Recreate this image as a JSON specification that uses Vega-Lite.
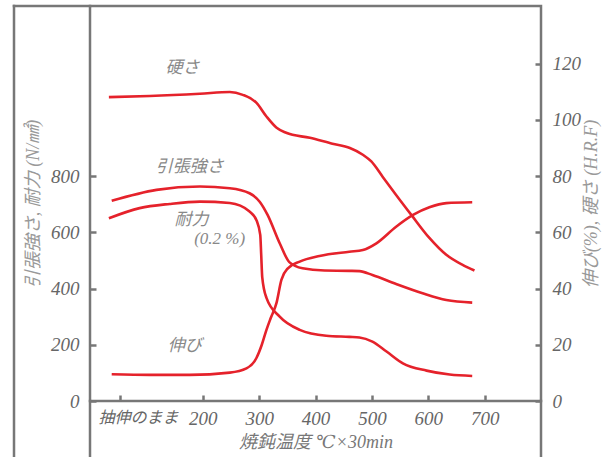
{
  "$schema": "https://vega.github.io/schema/vega-lite/v6.json",
  "width": 451,
  "height": 395,
  "autosize": "none",
  "padding": {"left": 90, "top": 6, "right": 67, "bottom": 56},
  "background": "white",
  "config": {"view": {"stroke": "#777", "strokeWidth": 2.5}},
  "datasets": {
    "left": [
      {"series": "引張強さ", "temp": 38.5, "value": 712},
      {"series": "引張強さ", "temp": 118, "value": 751},
      {"series": "引張強さ", "temp": 195, "value": 763},
      {"series": "引張強さ", "temp": 248, "value": 757},
      {"series": "引張強さ", "temp": 283, "value": 739},
      {"series": "引張強さ", "temp": 301, "value": 709},
      {"series": "引張強さ", "temp": 315, "value": 662},
      {"series": "引張強さ", "temp": 336.5, "value": 561},
      {"series": "引張強さ", "temp": 354, "value": 493},
      {"series": "引張強さ", "temp": 377, "value": 472},
      {"series": "引張強さ", "temp": 416, "value": 464},
      {"series": "引張強さ", "temp": 460, "value": 463},
      {"series": "引張強さ", "temp": 478, "value": 462},
      {"series": "引張強さ", "temp": 501, "value": 448},
      {"series": "引張強さ", "temp": 543, "value": 416},
      {"series": "引張強さ", "temp": 590, "value": 383},
      {"series": "引張強さ", "temp": 632, "value": 359},
      {"series": "引張強さ", "temp": 678, "value": 350},
      {"series": "耐力", "temp": 33.5, "value": 650},
      {"series": "耐力", "temp": 88, "value": 686},
      {"series": "耐力", "temp": 141.5, "value": 701},
      {"series": "耐力", "temp": 195, "value": 709},
      {"series": "耐力", "temp": 248, "value": 704},
      {"series": "耐力", "temp": 283, "value": 674},
      {"series": "耐力", "temp": 295.7, "value": 641},
      {"series": "耐力", "temp": 302, "value": 591},
      {"series": "耐力", "temp": 303.7, "value": 520},
      {"series": "耐力", "temp": 305.5, "value": 441},
      {"series": "耐力", "temp": 313, "value": 367},
      {"series": "耐力", "temp": 336.5, "value": 300},
      {"series": "耐力", "temp": 372, "value": 253},
      {"series": "耐力", "temp": 419, "value": 232},
      {"series": "耐力", "temp": 460, "value": 228},
      {"series": "耐力", "temp": 478, "value": 226},
      {"series": "耐力", "temp": 501, "value": 211},
      {"series": "耐力", "temp": 526, "value": 176},
      {"series": "耐力", "temp": 555, "value": 134},
      {"series": "耐力", "temp": 597, "value": 108},
      {"series": "耐力", "temp": 638, "value": 94},
      {"series": "耐力", "temp": 678, "value": 89}
    ],
    "right": [
      {"series": "硬さ", "temp": 33.5, "value": 108.1},
      {"series": "硬さ", "temp": 106, "value": 108.5},
      {"series": "硬さ", "temp": 195, "value": 109.3},
      {"series": "硬さ", "temp": 248, "value": 109.9},
      {"series": "硬さ", "temp": 271, "value": 108.9},
      {"series": "硬さ", "temp": 295, "value": 106.1},
      {"series": "硬さ", "temp": 313, "value": 101.2},
      {"series": "硬さ", "temp": 331, "value": 97.2},
      {"series": "硬さ", "temp": 348, "value": 95.4},
      {"series": "硬さ", "temp": 390, "value": 93.6},
      {"series": "硬さ", "temp": 430, "value": 91.5},
      {"series": "硬さ", "temp": 461, "value": 90.0},
      {"series": "硬さ", "temp": 484, "value": 87.6},
      {"series": "硬さ", "temp": 499, "value": 85.2},
      {"series": "硬さ", "temp": 519, "value": 79.8},
      {"series": "硬さ", "temp": 543, "value": 73.3},
      {"series": "硬さ", "temp": 570, "value": 66.2},
      {"series": "硬さ", "temp": 602, "value": 58.0},
      {"series": "硬さ", "temp": 632, "value": 52.0},
      {"series": "硬さ", "temp": 661, "value": 48.4},
      {"series": "硬さ", "temp": 682, "value": 46.4},
      {"series": "伸び", "temp": 38.5, "value": 9.5},
      {"series": "伸び", "temp": 106, "value": 9.3},
      {"series": "伸び", "temp": 177, "value": 9.3},
      {"series": "伸び", "temp": 248, "value": 10.1},
      {"series": "伸び", "temp": 277.5, "value": 11.6},
      {"series": "伸び", "temp": 295, "value": 15.2},
      {"series": "伸び", "temp": 304.6, "value": 19.9},
      {"series": "伸び", "temp": 313, "value": 25.3},
      {"series": "伸び", "temp": 320.6, "value": 29.5},
      {"series": "伸び", "temp": 330.7, "value": 34.8},
      {"series": "伸び", "temp": 339.5, "value": 43.1},
      {"series": "伸び", "temp": 351, "value": 47.2},
      {"series": "伸び", "temp": 372, "value": 49.6},
      {"series": "伸び", "temp": 407, "value": 51.6},
      {"series": "伸び", "temp": 460, "value": 53.1},
      {"series": "伸び", "temp": 484, "value": 53.7},
      {"series": "伸び", "temp": 508, "value": 56.1},
      {"series": "伸び", "temp": 543, "value": 62.0},
      {"series": "伸び", "temp": 573, "value": 66.2},
      {"series": "伸び", "temp": 602, "value": 68.9},
      {"series": "伸び", "temp": 632, "value": 70.4},
      {"series": "伸び", "temp": 678, "value": 70.7}
    ],
    "labels": [
      {"temp": 164, "value": 1185, "label": "硬さ"},
      {"temp": 177, "value": 833, "label": "引張強さ"},
      {"temp": 180, "value": 644, "label": "耐力"},
      {"temp": 230, "value": 577, "label": "(0.2 %)"},
      {"temp": 168, "value": 196, "label": "伸び"}
    ],
    "frame": [
      {"temp": -134.8, "temp2": -134.8, "value": -230, "value2": 1405},
      {"temp": -134.8, "temp2": 0, "value": 1405, "value2": 1405},
      {"temp": 0, "temp2": 0, "value": -230, "value2": 0},
      {"temp": 800, "temp2": 800, "value": -230, "value2": 0}
    ]
  },
  "encoding": {
    "x": {
      "field": "temp",
      "type": "quantitative",
      "scale": {"domain": [0, 800], "nice": false, "zero": false},
      "axis": {
        "values": [53, 200, 300, 400, 500, 600, 700],
        "labelExpr": "datum.value < 100 ? '抽伸のまま' : datum.label",
        "title": "焼鈍温度 ℃×30min",
        "domain": false,
        "grid": false,
        "tickSize": -6,
        "tickColor": "#777",
        "tickWidth": 2.5,
        "labelFont": "Liberation Serif, DejaVu Serif, serif, Noto Sans CJK JP",
        "labelFontStyle": "italic",
        "labelFontSize": {"condition": {"test": "datum.value < 100", "value": 16}, "value": 19},
        "labelOffset": {"condition": {"test": "datum.value < 100", "value": 18}, "value": 0},
        "labelColor": "#666",
        "labelPadding": 14,
        "labelOverlap": false,
        "labelBound": false,
        "labelFlush": false,
        "titleFont": "Liberation Serif, DejaVu Serif, serif, Noto Sans CJK JP",
        "titleFontStyle": "italic",
        "titleFontWeight": "normal",
        "titleFontSize": 18,
        "titleColor": "#777",
        "titlePadding": 5
      }
    }
  },
  "layer": [
    {
      "encoding": {
        "y": {
          "field": "value",
          "type": "quantitative",
          "scale": {"domain": [0, 1405], "nice": false, "zero": false},
          "axis": {
            "orient": "left",
            "values": [0, 200, 400, 600, 800],
            "title": "引張強さ, 耐力 (N/㎟)",
            "domain": false,
            "grid": false,
            "tickSize": -6,
            "tickColor": "#777",
            "tickWidth": 2.5,
            "labelFont": "Liberation Serif, DejaVu Serif, serif",
            "labelFontStyle": "italic",
            "labelFontSize": 19,
            "labelColor": "#666",
            "labelPadding": 17,
            "labelOverlap": false,
            "labelBound": false,
            "labelFlush": false,
            "titleFont": "Liberation Serif, DejaVu Serif, serif, Noto Sans CJK JP",
            "titleFontStyle": "italic",
            "titleFontWeight": "normal",
            "titleFontSize": 18,
            "titleColor": "#999",
            "titlePadding": 8
          }
        }
      },
      "layer": [
        {
          "data": {"name": "frame"},
          "mark": {"type": "rule", "color": "#777", "strokeWidth": 2.5, "strokeCap": "square"},
          "encoding": {
            "x2": {"field": "temp2"},
            "y2": {"field": "value2"}
          }
        },
        {
          "data": {"name": "left"},
          "mark": {"type": "line", "color": "#e5222b", "strokeWidth": 2.6, "interpolate": "monotone"},
          "encoding": {"detail": {"field": "series"}}
        },
        {
          "data": {"name": "labels"},
          "mark": {"type": "text", "font": "Liberation Serif, DejaVu Serif, serif, Noto Sans CJK JP", "fontStyle": "italic", "fontSize": 17, "color": "#888"},
          "encoding": {"text": {"field": "label"}}
        }
      ]
    },
    {
      "data": {"name": "right"},
      "mark": {"type": "line", "color": "#e5222b", "strokeWidth": 2.6, "interpolate": "monotone"},
      "encoding": {
        "detail": {"field": "series"},
        "y": {
          "field": "value",
          "type": "quantitative",
          "scale": {"domain": [0, 140.5], "nice": false, "zero": false},
          "axis": {
            "orient": "right",
            "values": [0, 20, 40, 60, 80, 100, 120],
            "title": "伸び(%), 硬さ (H.R.F)",
            "titleAngle": 270,
            "domain": false,
            "grid": false,
            "tickSize": -6,
            "tickColor": "#777",
            "tickWidth": 2.5,
            "labelFont": "Liberation Serif, DejaVu Serif, serif",
            "labelFontStyle": "italic",
            "labelFontSize": 19,
            "labelColor": "#666",
            "labelPadding": 17,
            "labelOverlap": false,
            "labelBound": false,
            "labelFlush": false,
            "titleFont": "Liberation Serif, DejaVu Serif, serif, Noto Sans CJK JP",
            "titleFontStyle": "italic",
            "titleFontWeight": "normal",
            "titleFontSize": 18,
            "titleColor": "#999",
            "titlePadding": 20
          }
        }
      }
    }
  ],
  "resolve": {"scale": {"y": "independent"}}
}
